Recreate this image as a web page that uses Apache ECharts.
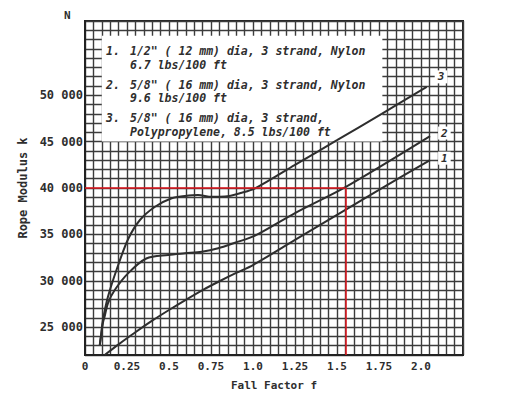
<!DOCTYPE html>
<html>
<head>
<meta charset="utf-8">
<style>
  html, body { margin: 0; padding: 0; background: #fff; }
  #chart { width: 515px; height: 399px; }
</style>
<script src="https://cdn.jsdelivr.net/npm/echarts@6/dist/echarts.min.js"></script>
</head>
<body>
<div id="chart"></div>
<script>
// tick labels
const xTickValues = [0, 0.25, 0.5, 0.75, 1, 1.25, 1.5, 1.75, 2];
const xTickLabels = ['0', '0.25', '0.5', '0.75', '1.0', '1.25', '1.5', '1.75', '2.0'];
const yTickValues = [25000, 30000, 35000, 40000, 45000, 50000];
const yTickLabels = ['25 000', '30 000', '35 000', '40 000', '45 000', '50 000'];

// rope 1: 1/2" nylon
const fall1 = [0.117, 0.2, 0.3, 0.4, 0.5, 0.6, 0.7, 0.8, 0.9, 1.0, 1.25, 1.5, 1.75, 2.054];
const modulus1 = [22000, 23150, 24450, 25700, 26850, 27950, 29000, 29950, 30850, 31700, 34400, 37100, 39800, 43000];

// rope 2: 5/8" nylon
const fall2 = [0.088, 0.097, 0.107, 0.117, 0.137, 0.177, 0.256, 0.365, 0.496, 0.595, 0.695, 0.793, 0.893, 1.012, 1.25, 1.55, 2.054];
const modulus2 = [23100, 24300, 25500, 26150, 27600, 29000, 30800, 32400, 32780, 32960, 33130, 33500, 34100, 34860, 37300, 40100, 45600];

// rope 3: 5/8" polypropylene
const fall3 = [0.088, 0.095, 0.107, 0.137, 0.19, 0.257, 0.327, 0.417, 0.516, 0.595, 0.673, 0.754, 0.833, 0.933, 1.012, 1.25, 1.5, 1.766, 2.034];
const modulus3 = [23100, 24000, 25800, 28300, 31300, 34500, 36550, 37980, 38890, 39130, 39240, 39050, 39080, 39490, 39960, 42500, 45150, 48000, 50900];

// red reading lines
const readFall = 1.55;
const readModulus = 40000;

// legend box (data coords) and its text
const legendBox = [[0.1, 45000], [1.77, 56400]];
const legendNums = ['1.', '2.', '3.'];
const legendLines = [
  ['1/2" ( 12 mm) dia, 3 strand, Nylon', '6.7 lbs/100 ft'],
  ['5/8" ( 16 mm) dia, 3 strand, Nylon', '9.6 lbs/100 ft'],
  ['5/8" ( 16 mm) dia, 3 strand,', 'Polypropylene, 8.5 lbs/100 ft']
];

const zip = (xs, ys) => xs.map((x, i) => [x, ys[i]]);

const ink = '#2e2e2e';
const gridLine = { color: '#3c3c3c', width: 1.4 };
const mono = 'DejaVu Sans Mono';
const legendFont = 'italic bold 11.5px ' + mono;

const chart = echarts.init(document.getElementById('chart'), null, { renderer: 'svg' });

const legendText = [];
legendLines.forEach((pair, i) => {
  const y0 = 51 + i * 33.5;
  legendText.push({ type: 'text', z: 100, x: 106, y: y0, style: { text: legendNums[i], font: legendFont, fill: ink, textVerticalAlign: 'middle' } });
  legendText.push({ type: 'text', z: 100, x: 130, y: y0, style: { text: pair[0], font: legendFont, fill: ink, textVerticalAlign: 'middle' } });
  legendText.push({ type: 'text', z: 100, x: 130, y: y0 + 13.5, style: { text: pair[1], font: legendFont, fill: ink, textVerticalAlign: 'middle' } });
});

const curve = (name, data, offset) => ({
  name: name,
  type: 'line',
  data: data,
  smooth: 0.3,
  symbol: 'none',
  z: 3,
  lineStyle: { color: ink, width: 2 },
  endLabel: {
    show: true,
    formatter: name,
    offset: offset,
    backgroundColor: '#fff',
    padding: [1, 3],
    color: ink,
    fontFamily: mono,
    fontStyle: 'italic',
    fontWeight: 'bold',
    fontSize: 11
  },
  emphasis: { disabled: true }
});

chart.setOption({
  backgroundColor: '#fff',
  animation: false,
  grid: { left: 85, right: 52, top: 21, bottom: 44, show: true, borderColor: '#222', borderWidth: 2 },
  xAxis: {
    type: 'value',
    min: 0,
    max: 2.25,
    interval: 0.25,
    name: 'Fall Factor f',
    nameLocation: 'middle',
    nameGap: 25,
    nameTextStyle: { fontFamily: mono, fontWeight: 'bold', fontSize: 11, color: ink },
    axisLine: { show: true, lineStyle: { color: '#222', width: 2 } },
    axisTick: { show: false },
    minorTick: { show: false, splitNumber: 5 },
    splitLine: { show: true, lineStyle: gridLine },
    minorSplitLine: { show: true, lineStyle: gridLine },
    axisLabel: {
      margin: 6,
      fontFamily: mono,
      fontWeight: 'bold',
      fontSize: 11,
      color: ink,
      showMaxLabel: false,
      formatter: v => {
        const i = xTickValues.findIndex(t => Math.abs(t - v) < 1e-6);
        return i < 0 ? '' : xTickLabels[i];
      }
    }
  },
  yAxis: {
    type: 'value',
    min: 22000,
    max: 58000,
    interval: 1000,
    name: 'Rope Modulus k',
    nameLocation: 'middle',
    nameRotate: 90,
    nameGap: 52,
    nameTextStyle: { fontFamily: mono, fontWeight: 'bold', fontSize: 12, color: ink },
    axisLine: { show: true, lineStyle: { color: '#222', width: 2 } },
    axisTick: { show: false },
    splitLine: { show: true, lineStyle: gridLine },
    axisLabel: {
      margin: 2,
      fontFamily: mono,
      fontWeight: 'bold',
      fontSize: 12,
      color: ink,
      formatter: v => {
        const i = yTickValues.indexOf(Math.round(v));
        return i < 0 ? '' : yTickLabels[i];
      }
    }
  },
  graphic: [
    { type: 'text', z: 100, x: 64, y: 10, style: { text: 'N', font: 'bold 11px ' + mono, fill: ink } }
  ].concat(legendText),
  series: [
    {
      type: 'line',
      data: [],
      z: 1,
      markArea: {
        silent: true,
        itemStyle: { color: '#fff', opacity: 1 },
        data: [[{ coord: legendBox[0] }, { coord: legendBox[1] }]]
      }
    },
    curve('1', zip(fall1, modulus1), [0, -2]),
    curve('2', zip(fall2, modulus2), [0, -3]),
    curve('3', zip(fall3, modulus3), [0, -10]),
    {
      type: 'line',
      data: [],
      z: 5,
      markLine: {
        silent: true,
        symbol: ['none', 'none'],
        label: { show: false },
        lineStyle: { color: '#e3161e', width: 1.5, type: 'solid' },
        data: [
          [{ coord: [0, readModulus] }, { coord: [readFall, readModulus] }],
          [{ coord: [readFall, 22000] }, { coord: [readFall, readModulus] }]
        ]
      }
    }
  ]
});
</script>
</body>
</html>
